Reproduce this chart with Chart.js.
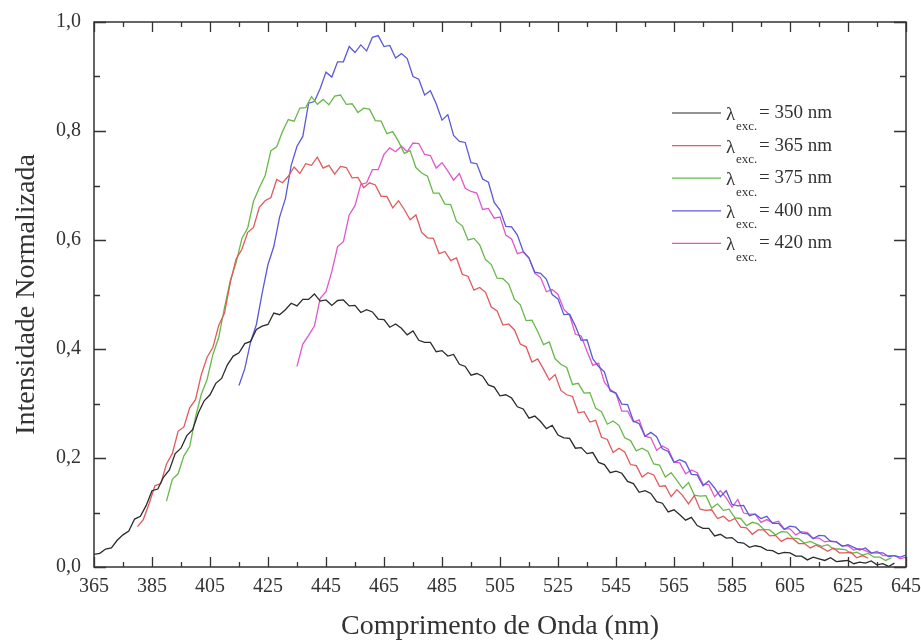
<!DOCTYPE html>
<html>
<head>
<meta charset="utf-8">
<script src="https://cdn.jsdelivr.net/npm/chart.js@4/dist/chart.umd.min.js"></script>
<style>
  html, body { margin: 0; padding: 0; background: #fff; }
  #wrap { width: 921px; height: 643px; position: relative; }
</style>
</head>
<body>
<div id="wrap"><canvas id="chart"></canvas></div>
<script>
// espectros de emissão normalizados, amostrados a cada 2 nm
const step = 2;

const labels = ['350 nm', '365 nm', '375 nm', '400 nm', '420 nm'];
const colors = ['#2b2b2b', '#e05a5c', '#68b84a', '#5a5ad8', '#e057cc'];

const xMajor = [365, 385, 405, 425, 445, 465, 485, 505, 525, 545, 565, 585, 605, 625, 645];
const xMinor = [375, 395, 415, 435, 455, 475, 495, 515, 535, 555, 575, 595, 615, 635];
const yMajor = [0, 0.2, 0.4, 0.6, 0.8, 1.0];
const yMinor = [0.1, 0.3, 0.5, 0.7, 0.9];

// λexc = 350 nm, de 365 nm
const start350 = 365;
const exc350 = [
  0.023, 0.025, 0.033, 0.035, 0.049, 0.059, 0.066, 0.088, 0.093, 0.113,
  0.140, 0.143, 0.165, 0.178, 0.208, 0.218, 0.241, 0.252, 0.283, 0.305,
  0.316, 0.337, 0.346, 0.371, 0.387, 0.393, 0.410, 0.414, 0.436, 0.442,
  0.445, 0.466, 0.463, 0.472, 0.484, 0.479, 0.491, 0.491, 0.501, 0.488,
  0.490, 0.480, 0.489, 0.490, 0.479, 0.480, 0.467, 0.472, 0.468, 0.455,
  0.454, 0.440, 0.446, 0.438, 0.426, 0.433, 0.416, 0.412, 0.412, 0.395,
  0.397, 0.387, 0.390, 0.372, 0.368, 0.352, 0.355, 0.350, 0.334, 0.330,
  0.314, 0.316, 0.310, 0.294, 0.290, 0.273, 0.277, 0.267, 0.254, 0.260,
  0.242, 0.237, 0.236, 0.218, 0.219, 0.208, 0.210, 0.192, 0.188, 0.173,
  0.176, 0.172, 0.157, 0.153, 0.137, 0.140, 0.135, 0.120, 0.117, 0.101,
  0.105, 0.096, 0.086, 0.091, 0.076, 0.071, 0.071, 0.057, 0.060, 0.053,
  0.054, 0.045, 0.044, 0.036, 0.039, 0.037, 0.031, 0.030, 0.024, 0.027,
  0.026, 0.020, 0.020, 0.013, 0.018, 0.015, 0.012, 0.017, 0.010, 0.011,
  0.012, 0.006, 0.009, 0.007, 0.011, 0.004, 0.006, 0.001, 0.007
];

// λexc = 365 nm, de 380 nm
const start365 = 380;
const exc365 = [
  0.074, 0.087, 0.116, 0.149, 0.153, 0.189, 0.208, 0.249, 0.257, 0.292,
  0.307, 0.353, 0.385, 0.403, 0.443, 0.466, 0.522, 0.565, 0.583, 0.614,
  0.623, 0.660, 0.672, 0.678, 0.711, 0.705, 0.717, 0.734, 0.722, 0.740,
  0.737, 0.752, 0.732, 0.737, 0.721, 0.735, 0.733, 0.714, 0.715, 0.696,
  0.705, 0.701, 0.680, 0.680, 0.659, 0.672, 0.656, 0.637, 0.646, 0.614,
  0.604, 0.603, 0.575, 0.579, 0.562, 0.567, 0.537, 0.533, 0.508, 0.513,
  0.504, 0.477, 0.470, 0.444, 0.446, 0.435, 0.409, 0.404, 0.376, 0.382,
  0.363, 0.343, 0.353, 0.324, 0.316, 0.313, 0.283, 0.285, 0.266, 0.269,
  0.238, 0.234, 0.210, 0.218, 0.211, 0.188, 0.186, 0.165, 0.173, 0.169,
  0.148, 0.149, 0.129, 0.142, 0.131, 0.116, 0.131, 0.106, 0.104, 0.105,
  0.089, 0.093, 0.084, 0.089, 0.073, 0.072, 0.060, 0.068, 0.068, 0.057,
  0.058, 0.047, 0.053, 0.052, 0.043, 0.043, 0.035, 0.040, 0.035, 0.029,
  0.035, 0.026, 0.026, 0.027, 0.017, 0.021, 0.016
];

// λexc = 375 nm, de 390 nm
const start375 = 390;
const exc375 = [
  0.121, 0.161, 0.171, 0.204, 0.221, 0.275, 0.317, 0.344, 0.390, 0.421,
  0.476, 0.526, 0.558, 0.603, 0.622, 0.671, 0.696, 0.718, 0.764, 0.771,
  0.799, 0.821, 0.818, 0.842, 0.843, 0.863, 0.849, 0.858, 0.848, 0.864,
  0.866, 0.849, 0.850, 0.834, 0.842, 0.840, 0.819, 0.818, 0.795, 0.799,
  0.781, 0.759, 0.764, 0.733, 0.723, 0.717, 0.686, 0.686, 0.666, 0.665,
  0.634, 0.626, 0.600, 0.603, 0.591, 0.564, 0.555, 0.530, 0.529, 0.519,
  0.491, 0.481, 0.452, 0.453, 0.432, 0.408, 0.413, 0.382, 0.372, 0.366,
  0.335, 0.337, 0.319, 0.320, 0.291, 0.285, 0.262, 0.268, 0.260, 0.237,
  0.232, 0.213, 0.218, 0.212, 0.189, 0.187, 0.165, 0.173, 0.159, 0.144,
  0.155, 0.132, 0.130, 0.131, 0.108, 0.116, 0.104, 0.106, 0.090, 0.089,
  0.076, 0.082, 0.079, 0.069, 0.068, 0.059, 0.065, 0.064, 0.053, 0.052,
  0.044, 0.047, 0.042, 0.038, 0.041, 0.033, 0.033, 0.032, 0.025, 0.027,
  0.022, 0.025, 0.018, 0.018, 0.012, 0.017
];

// λexc = 400 nm, de 415 nm
const start400 = 415;
const exc400 = [
  0.333, 0.364, 0.413, 0.445, 0.503, 0.555, 0.588, 0.642, 0.676, 0.737,
  0.772, 0.790, 0.851, 0.854, 0.878, 0.908, 0.899, 0.927, 0.927, 0.955,
  0.944, 0.958, 0.947, 0.972, 0.975, 0.955, 0.957, 0.934, 0.942, 0.933,
  0.900, 0.895, 0.866, 0.874, 0.850, 0.820, 0.830, 0.792, 0.781, 0.779,
  0.742, 0.740, 0.712, 0.706, 0.669, 0.655, 0.625, 0.624, 0.609, 0.579,
  0.567, 0.541, 0.539, 0.528, 0.500, 0.492, 0.463, 0.464, 0.442, 0.416,
  0.417, 0.382, 0.368, 0.358, 0.323, 0.319, 0.299, 0.298, 0.268, 0.263,
  0.240, 0.247, 0.239, 0.217, 0.212, 0.192, 0.197, 0.192, 0.170, 0.169,
  0.149, 0.158, 0.145, 0.129, 0.140, 0.115, 0.112, 0.113, 0.094, 0.097,
  0.089, 0.093, 0.080, 0.080, 0.069, 0.075, 0.073, 0.062, 0.061, 0.052,
  0.058, 0.057, 0.047, 0.046, 0.038, 0.041, 0.036, 0.031, 0.035, 0.026,
  0.026, 0.026, 0.019, 0.021, 0.018, 0.022
];

// λexc = 420 nm, de 435 nm
const start420 = 435;
const exc420 = [
  0.368, 0.409, 0.425, 0.442, 0.493, 0.505, 0.542, 0.588, 0.597, 0.646,
  0.663, 0.702, 0.705, 0.729, 0.729, 0.757, 0.769, 0.762, 0.772, 0.762,
  0.778, 0.777, 0.757, 0.755, 0.732, 0.742, 0.727, 0.710, 0.722, 0.695,
  0.689, 0.686, 0.656, 0.658, 0.640, 0.642, 0.609, 0.602, 0.575, 0.578,
  0.567, 0.539, 0.531, 0.505, 0.509, 0.500, 0.473, 0.462, 0.427, 0.424,
  0.396, 0.370, 0.374, 0.339, 0.326, 0.318, 0.286, 0.286, 0.266, 0.270,
  0.240, 0.237, 0.214, 0.222, 0.216, 0.193, 0.191, 0.171, 0.178, 0.173,
  0.152, 0.151, 0.129, 0.140, 0.127, 0.110, 0.124, 0.099, 0.097, 0.097,
  0.082, 0.087, 0.081, 0.084, 0.070, 0.070, 0.059, 0.065, 0.063, 0.053,
  0.053, 0.046, 0.048, 0.046, 0.039, 0.039, 0.031, 0.034, 0.030, 0.025,
  0.029, 0.021, 0.021, 0.021, 0.015, 0.018
];

function toPoints(startNm, values) {
  return values.map((v, i) => ({ x: startNm + step * i, y: v }));
}

const series = [
  toPoints(start350, exc350),
  toPoints(start365, exc365),
  toPoints(start375, exc375),
  toPoints(start400, exc400),
  toPoints(start420, exc420)
];

const serif = "'Liberation Serif', 'DejaVu Serif', serif";
const ink = '#333';

const fmtComma = v => v.toFixed(1).replace('.', ',');

// ticks para dentro nos quatro lados + moldura + legenda com subscrito
const framePlugin = {
  id: 'framePlugin',
  afterDraw(chart) {
    const ctx = chart.ctx;
    const a = chart.chartArea;
    const xs = chart.scales.x;
    const ys = chart.scales.y;
    ctx.save();
    ctx.strokeStyle = ink;
    ctx.lineWidth = 1.5;
    ctx.strokeRect(a.left, a.top, a.right - a.left, a.bottom - a.top);

    ctx.lineWidth = 1.3;
    ctx.beginPath();
    const xt = (vals, len) => vals.forEach(v => {
      const px = Math.round(xs.getPixelForValue(v)) + 0.5;
      ctx.moveTo(px, a.bottom); ctx.lineTo(px, a.bottom - len);
      ctx.moveTo(px, a.top); ctx.lineTo(px, a.top + len);
    });
    const yt = (vals, len) => vals.forEach(v => {
      const py = Math.round(ys.getPixelForValue(v)) + 0.5;
      ctx.moveTo(a.left, py); ctx.lineTo(a.left + len, py);
      ctx.moveTo(a.right, py); ctx.lineTo(a.right - len, py);
    });
    xt(xMajor, 10); xt(xMinor, 5);
    yt(yMajor, 12); yt(yMinor, 6);
    ctx.stroke();

    // legenda
    const lx0 = 672, lx1 = 721, top = 113, gap = 32.6;
    chart.data.datasets.forEach((ds, i) => {
      const y = top + gap * i;
      ctx.strokeStyle = ds.borderColor;
      ctx.lineWidth = 1.2;
      ctx.beginPath();
      ctx.moveTo(lx0, y); ctx.lineTo(lx1, y);
      ctx.stroke();
      ctx.fillStyle = ink;
      ctx.textBaseline = 'middle';
      ctx.textAlign = 'left';
      ctx.font = '19px ' + serif;
      ctx.fillText('λ', 726, y + 2);
      ctx.font = '13px ' + serif;
      ctx.fillText('exc.', 736, y + 14);
      ctx.font = '19px ' + serif;
      ctx.fillText('= ' + labels[i], 759, y);
    });
    ctx.restore();
  }
};

new Chart(document.getElementById('chart'), {
  type: 'line',
  data: {
    datasets: series.map((pts, i) => ({
      label: labels[i],
      data: pts,
      borderColor: colors[i],
      backgroundColor: colors[i],
      borderWidth: 1.3,
      pointRadius: 0,
      tension: 0
    }))
  },
  options: {
    responsive: true,
    maintainAspectRatio: false,
    animation: false,
    layout: { padding: { top: 22, right: 15, left: 0, bottom: 0 } },
    plugins: { legend: { display: false }, tooltip: { enabled: false } },
    scales: {
      x: {
        type: 'linear',
        min: 365,
        max: 645,
        afterBuildTicks: s => { s.ticks = xMajor.map(v => ({ value: v })); },
        afterFit: s => { s.height = 76; s.paddingLeft = 0; s.paddingRight = 0; },
        grid: { display: false, drawTicks: false },
        border: { display: false },
        ticks: {
          padding: 8,
          color: ink,
          font: { family: serif, size: 20 },
          maxRotation: 0,
          autoSkip: false,
          callback: v => String(v)
        },
        title: {
          display: true,
          text: 'Comprimento de Onda (nm)',
          color: ink,
          font: { family: serif, size: 28 },
          padding: { top: 0, bottom: 0 }
        }
      },
      y: {
        min: 0,
        max: 1,
        afterBuildTicks: s => { s.ticks = yMajor.map(v => ({ value: v })); },
        afterFit: s => { s.width = 94; s.paddingTop = 0; s.paddingBottom = 0; },
        grid: { display: false, drawTicks: false },
        border: { display: false },
        ticks: {
          padding: 13,
          color: ink,
          font: { family: serif, size: 20 },
          callback: v => fmtComma(v)
        },
        title: {
          display: true,
          text: 'Intensidade Normalizada',
          color: ink,
          font: { family: serif, size: 28 },
          padding: { top: 10, bottom: 0 }
        }
      }
    }
  },
  plugins: [framePlugin]
});
</script>
</body>
</html>
